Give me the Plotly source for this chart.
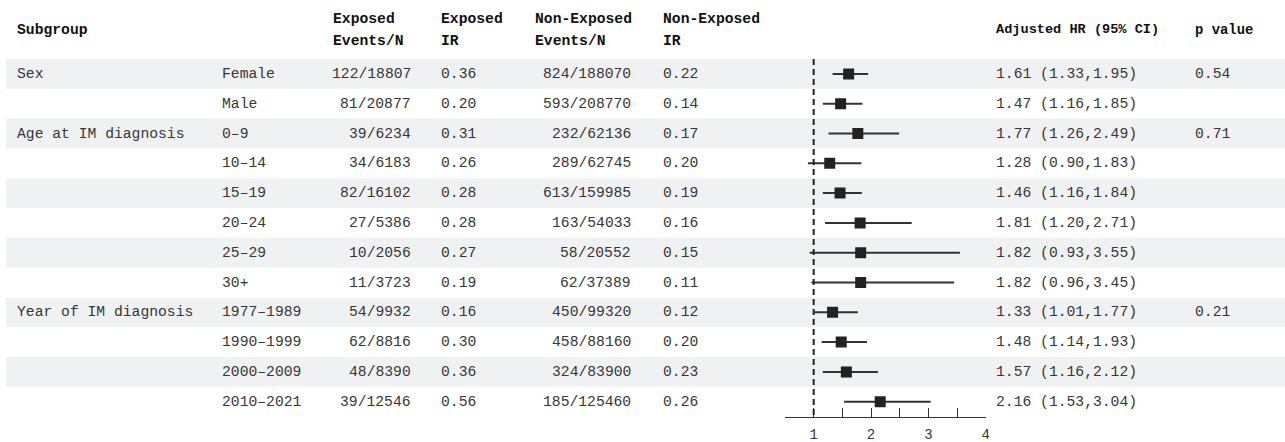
import plotly.graph_objects as go

# ---- data ----
groups = ["Sex", "", "Age at IM diagnosis", "", "", "", "", "",
          "Year of IM diagnosis", "", "", ""]
subgroups = ["Female", "Male", "0–9", "10–14", "15–19", "20–24", "25–29", "30+",
             "1977–1989", "1990–1999", "2000–2009", "2010–2021"]
exp_events = ["122/18807", "81/20877", "39/6234", "34/6183", "82/16102", "27/5386",
              "10/2056", "11/3723", "54/9932", "62/8816", "48/8390", "39/12546"]
exp_ir = ["0.36", "0.20", "0.31", "0.26", "0.28", "0.28", "0.27", "0.19",
          "0.16", "0.30", "0.36", "0.56"]
nonexp_events = ["824/188070", "593/208770", "232/62136", "289/62745", "613/159985",
                 "163/54033", "58/20552", "62/37389", "450/99320", "458/88160",
                 "324/83900", "185/125460"]
nonexp_ir = ["0.22", "0.14", "0.17", "0.20", "0.19", "0.16", "0.15", "0.11",
             "0.12", "0.20", "0.23", "0.26"]
hr = [1.61, 1.47, 1.77, 1.28, 1.46, 1.81, 1.82, 1.82, 1.33, 1.48, 1.57, 2.16]
ci_lo = [1.33, 1.16, 1.26, 0.90, 1.16, 1.20, 0.93, 0.96, 1.01, 1.14, 1.16, 1.53]
ci_hi = [1.95, 1.85, 2.49, 1.83, 1.84, 2.71, 3.55, 3.45, 1.77, 1.93, 2.12, 3.04]
p_values = ["0.54", "", "0.71", "", "", "", "", "", "0.21", "", "", ""]

header_cols = [
    ("Subgroup", None),
    ("Exposed", "Events/N"),
    ("Exposed", "IR"),
    ("Non-Exposed", "Events/N"),
    ("Non-Exposed", "IR"),
    ("Adjusted HR (95% CI)", None),
    ("p value", None),
]
tick_vals = [0.5, 1, 1.5, 2, 2.5, 3, 3.5, 4]
tick_text = ["", "1", "", "2", "", "3", "", "4"]

# ---- layout constants ----
W, H = 1285, 442
FONT = "Liberation Mono, Courier New, monospace"
BODY = 14.7
TXT = "#363636"
n = len(hr)
row_h = 29.8
first_center = 73.9
plot_bottom = 417

def ypx(px):
    return (px - first_center) / row_h

fig = go.Figure()

# forest marks
fig.add_trace(go.Scatter(
    x=hr, y=list(range(n)), mode="markers",
    marker=dict(symbol="square", size=11, color="#222222"),
    error_x=dict(type="data", symmetric=False,
                 array=[h - m for h, m in zip(ci_hi, hr)],
                 arrayminus=[m - l for m, l in zip(hr, ci_lo)],
                 thickness=2, width=0, color="#333333"),
    hoverinfo="skip", showlegend=False,
))

shapes = []
for i in range(n):
    if i % 2 == 0:
        shapes.append(dict(type="rect", xref="paper", yref="y",
                           x0=6 / W, x1=1, y0=i - 0.5, y1=i + 0.5,
                           fillcolor="#f0f1f3", line=dict(width=0), layer="below"))
shapes.append(dict(type="line", xref="x", yref="y", x0=1, x1=1,
                   y0=-0.5, y1=n - 0.5,
                   line=dict(color="#222222", width=2, dash="6px,4px")))

ann = []
def add(text, xp, y, anchor="left", bold=False, color=TXT, size=BODY):
    ann.append(dict(text=f"<b>{text}</b>" if bold else text, x=xp / W, xref="paper",
                    y=y, yref="y", xanchor=anchor, yanchor="middle",
                    showarrow=False, font=dict(family=FONT, size=size, color=color)))

# headers
hdr_x = [15, 331, 439, 533, 661, 994, 1193]
hdr_size = [BODY, BODY, BODY, BODY, BODY, 13.6, 13.9]
for (l1, l2), xp, sz in zip(header_cols, hdr_x, hdr_size):
    if l2 is None:
        add(l1, xp, ypx(29.5), bold=True, color="#111111", size=sz)
    else:
        add(l1, xp, ypx(18.5), bold=True, color="#111111", size=sz)
        add(l2, xp, ypx(40.5), bold=True, color="#111111", size=sz)

for i in range(n):
    if groups[i]:
        add(groups[i], 15, i)
    add(subgroups[i], 220, i)
    add(exp_events[i], 413, i, anchor="right")
    add(exp_ir[i], 439, i)
    add(nonexp_events[i], 633, i, anchor="right")
    add(nonexp_ir[i], 661, i)
    add(f"{hr[i]:.2f} ({ci_lo[i]:.2f},{ci_hi[i]:.2f})", 994, i)
    if p_values[i]:
        add(p_values[i], 1193, i)

fig.update_layout(
    width=W, height=H, autosize=False,
    margin=dict(l=0, r=0, t=0, b=H - plot_bottom, pad=0, autoexpand=False),
    plot_bgcolor="rgba(0,0,0,0)", paper_bgcolor="white",
    shapes=shapes, annotations=ann,
    xaxis=dict(domain=[785.0 / W, 985.7 / W], range=[0.5, 4],
               tickvals=tick_vals, ticktext=tick_text,
               ticks="inside", ticklen=9, tickwidth=1, tickcolor="#333333",
               showline=True, linecolor="#333333", linewidth=1,
               showgrid=False, zeroline=False, fixedrange=True,
               tickfont=dict(family=FONT, size=14, color=TXT),
               ticklabelstandoff=4, automargin=False),
    yaxis=dict(range=[ypx(plot_bottom), ypx(0)], visible=False,
               showgrid=False, zeroline=False, fixedrange=True,
               automargin=False),
)

fig.write_html("out.html",
               config={"displayModeBar": False},
               post_script="document.body.style.margin='0';document.body.style.overflow='hidden';")
